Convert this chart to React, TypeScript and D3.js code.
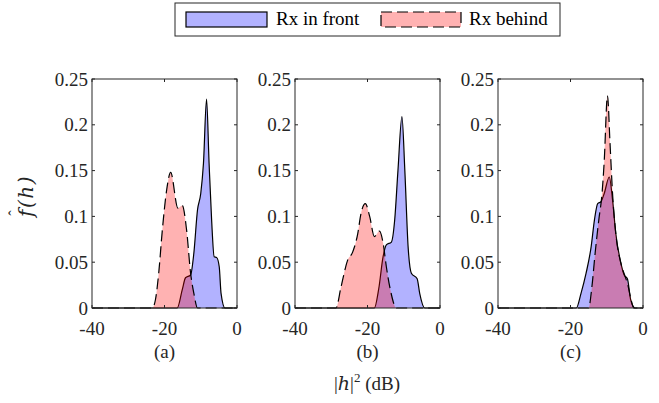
import React from 'react';
import * as d3 from 'd3';

// density estimates, |h|^2 in dB vs f(h)
const panelLabels = ['(a)', '(b)', '(c)'];
const xTicks = [-40, -20, 0];
const yTicks = [0, 0.05, 0.1, 0.15, 0.2, 0.25];

const frontA: [number, number][] = [
  [-40, 0], [-16.5, 0], [-15.1, 0.02], [-14.2, 0.033], [-12.8, 0.036], [-11.9, 0.06],
  [-10.9, 0.107], [-10, 0.125], [-9.25, 0.158], [-8.4, 0.228], [-7.7, 0.158],
  [-7.0, 0.096], [-6.3, 0.056], [-5.6, 0.055], [-4.9, 0.045], [-4.4, 0.016], [-3.3, 0], [0, 0],
];
const behindA: [number, number][] = [
  [-40, 0], [-23.4, 0], [-22.5, 0.009], [-21.6, 0.038], [-20.6, 0.085], [-19.4, 0.129],
  [-18.3, 0.148], [-16.3, 0.109], [-15.1, 0.112], [-13.9, 0.085], [-12.8, 0.038],
  [-11.9, 0.016], [-10.9, 0], [0, 0],
];
const frontB: [number, number][] = [
  [-40, 0], [-18.1, 0], [-16.9, 0.021], [-15.7, 0.056], [-14.8, 0.069], [-13.4, 0.072],
  [-12.5, 0.096], [-11.6, 0.15], [-10.5, 0.209], [-9.7, 0.15], [-8.8, 0.067],
  [-7.9, 0.038], [-6.3, 0.032], [-5.6, 0.016], [-4.2, 0], [0, 0],
];
const behindB: [number, number][] = [
  [-40, 0], [-28.7, 0], [-27.3, 0.023], [-25.5, 0.052], [-24.1, 0.061], [-22.7, 0.081],
  [-21.8, 0.103], [-20.6, 0.114], [-19.4, 0.1], [-18.1, 0.078], [-16.7, 0.084],
  [-15.7, 0.071], [-14.8, 0.045], [-13.7, 0.02], [-12.0, 0], [0, 0],
];
const frontC: [number, number][] = [
  [-40, 0], [-18.4, 0], [-17.1, 0.016], [-15.7, 0.038], [-14.3, 0.067], [-13.4, 0.096],
  [-12.5, 0.114], [-11.6, 0.116], [-10.7, 0.125], [-9.3, 0.143], [-8.4, 0.118],
  [-7.5, 0.081], [-6.1, 0.049], [-5.2, 0.036], [-4.3, 0.032], [-3.4, 0.009], [-2.2, 0], [0, 0],
];
const behindC: [number, number][] = [
  [-40, 0], [-15.0, 0], [-14.1, 0.023], [-13.2, 0.06], [-12.2, 0.096], [-11.3, 0.125],
  [-10.7, 0.16], [-9.8, 0.232], [-9.1, 0.18], [-8.4, 0.125], [-7.5, 0.081],
  [-6.1, 0.049], [-4.9, 0.034], [-4.3, 0.027], [-3.4, 0.011], [-2.5, 0], [0, 0],
];

const front = [frontA, frontB, frontC];
const behind = [behindA, behindB, behindC];

const W = 659;
const H = 403;
const lefts = [92, 295, 498];
const pw = 145;
const top = 79;
const bottom = 308;
const axisColor = '#262626';
const font = '"Liberation Serif", "Times New Roman", serif';
const mathFont = '"DejaVu Serif", serif';
const dash = '11,5';
const tickSize = 19;

const Panel = ({ i }: { i: number }) => {
  const x = d3.scaleLinear().domain([-40, 0]).range([lefts[i], lefts[i] + pw]);
  const y = d3.scaleLinear().domain([0, 0.25]).range([bottom, top]);
  const area = d3.area<[number, number]>()
    .x(d => x(d[0])).y0(y(0)).y1(d => y(d[1])).curve(d3.curveMonotoneX);
  const line = d3.line<[number, number]>()
    .x(d => x(d[0])).y(d => y(d[1])).curve(d3.curveMonotoneX);
  const x0 = lefts[i];
  const x1 = lefts[i] + pw;
  return (
    <g>
      <path d={area(front[i]) || ''} fill="blue" fillOpacity={0.3} />
      <path d={line(front[i]) || ''} fill="none" stroke="#000" strokeWidth={1.2} />
      <path d={area(behind[i]) || ''} fill="red" fillOpacity={0.3} />
      <path d={line(behind[i]) || ''} fill="none" stroke="#000" strokeWidth={1.2} strokeDasharray={dash} />
      <rect x={x0} y={top} width={pw} height={bottom - top} fill="none" stroke={axisColor} strokeWidth={1} />
      {xTicks.map(t => (
        <g key={'x' + t}>
          <line x1={x(t)} x2={x(t)} y1={bottom} y2={bottom - 3} stroke={axisColor} />
          <line x1={x(t)} x2={x(t)} y1={top} y2={top + 3} stroke={axisColor} />
          <text x={x(t)} y={335} textAnchor="middle"
            fontSize={tickSize} fontFamily={font} fill={axisColor}>{t}</text>
        </g>
      ))}
      {yTicks.map(t => (
        <g key={'y' + t}>
          <line x1={x0} x2={x0 + 3} y1={y(t)} y2={y(t)} stroke={axisColor} />
          <line x1={x1} x2={x1 - 3} y1={y(t)} y2={y(t)} stroke={axisColor} />
          <text x={x0 - 4} y={y(t) + 6.5} textAnchor="end"
            fontSize={tickSize} fontFamily={font} fill={axisColor}>{t}</text>
        </g>
      ))}
      <text x={(x0 + x1) / 2} y={358} textAnchor="middle"
        fontSize={tickSize} fontFamily={font} fill={axisColor}>{panelLabels[i]}</text>
    </g>
  );
};

const App = () => {
  return (
    <svg width={W} height={H} style={{ position: 'absolute', left: 0, top: 0, background: '#fff' }}>
      {[0, 1, 2].map(i => <Panel key={i} i={i} />)}
      <g transform="translate(33,196) rotate(-90)" fill={axisColor}>
        <text textAnchor="middle" fontSize={20} fontFamily={mathFont} fontStyle="italic" letterSpacing={1.5}>f(h)</text>
        <text x={-17} y={-13} textAnchor="middle" fontSize={16} fontFamily={font}>ˆ</text>
      </g>
      <text x={367} y={390} textAnchor="middle" fontSize={19} fontFamily={font} fill={axisColor}>
        |<tspan fontStyle="italic" fontFamily={mathFont}>h</tspan>|<tspan fontSize={13} dy={-8}>2</tspan><tspan dy={8}> (dB)</tspan>
      </text>
      <g>
        <rect x={175} y={3} width={385} height={33} fill="#fff" stroke={axisColor} strokeWidth={1} />
        <rect x={186} y={12} width={81} height={15} fill="blue" fillOpacity={0.3} stroke="#000" strokeWidth={1.2} />
        <text x={276} y={25} fontSize={19} fontFamily={font} fill="#000">Rx in front</text>
        <rect x={381} y={12} width={80} height={15} fill="red" fillOpacity={0.3} stroke="#000" strokeWidth={1.2} strokeDasharray={dash} />
        <text x={469} y={25} fontSize={19} fontFamily={font} fill="#000">Rx behind</text>
      </g>
    </svg>
  );
};

export default App;
